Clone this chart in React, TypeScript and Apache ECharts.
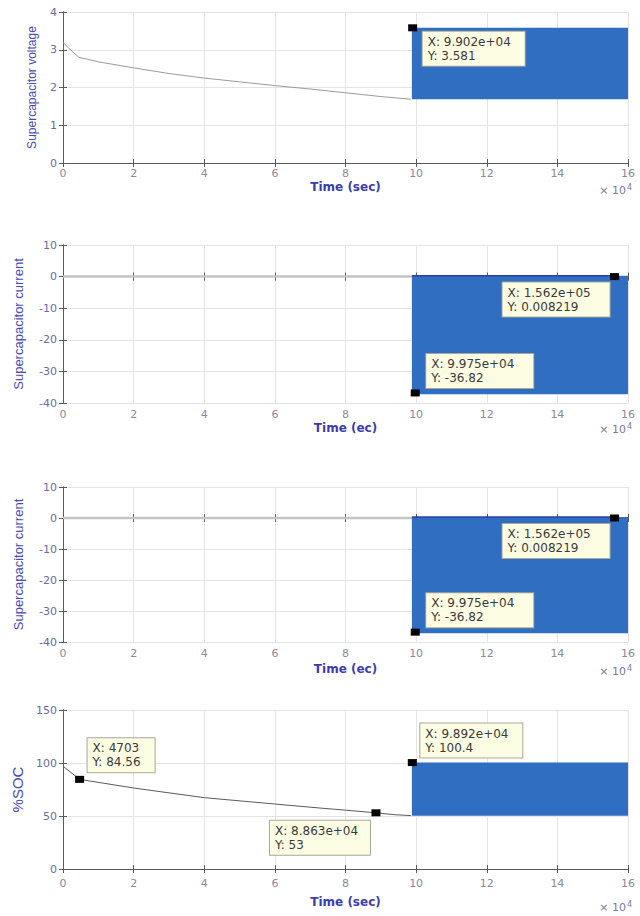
import React, { useEffect, useRef } from "react";
import * as echarts from "echarts";

// ---- data ----
const xTickLabelsScale = 1e4; // axis shows values ×10^4

const voltageTime = [0, 1500, 4500, 10000, 20000, 30000, 40000, 50000, 60000, 70000, 80000, 90000, 98500];
const voltageValue = [3.2, 3.05, 2.8, 2.68, 2.52, 2.37, 2.25, 2.15, 2.05, 1.96, 1.86, 1.76, 1.69];
const voltageBand = [98800, 160000, 1.69, 3.58]; // start, end, low, high
const voltageTips = [[99020, 3.581]];

const currentTime = [0, 98800];
const currentValue = [0, 0];
const currentBand = [98800, 160000, -37.2, 0.3];
const currentBandTopEdge = [[98800, 0.3], [155800, 0.3]];
const currentTips = [[156200, 0.008219], [99750, -36.82]];

const socTime = [0, 4703, 20000, 40000, 60000, 72800, 80000, 88630, 94000, 98500];
const socValue = [97, 84.56, 76.4, 67.3, 61.3, 57.5, 55.5, 53, 51.2, 50.4];
const socBand = [98800, 160000, 50.3, 100.4];
const socTips = [[4703, 84.56], [88630, 53], [98920, 100.4]];

const yNames = ["Supercapacitor voltage", "Supercapacitor current", "Supercapacitor current", "%SOC"];
const xNames = ["Time (sec)", "Time (ec)", "Time (ec)", "Time (sec)"];

// ---- styling / layout ----
const FONT = "Liberation Sans, Arial, sans-serif";
const WIDE = "DejaVu Sans, sans-serif";
const BAND = "#2f6ec0";
const GRID_LEFT = 63;
const GRID_RIGHT = 12;
const PAD = [3, 6, 3, 5];

const fmtX = (v: number) =>
  Math.abs(v) >= 1e4 ? v.toExponential(3).replace(/e([+-])(\d)$/, "e$10$2") : String(v);

// box placement relative to marker centre: side "r" = box to the right, "l" = box to the left
type Placement = { dx: number; dy: number; side: string; va: string; w: number };

const plots = [
  {
    top: 12, height: 151, min: 0, max: 4, interval: 1,
    time: voltageTime, value: voltageValue, band: voltageBand, tips: voltageTips,
    lineColor: "#9a9a9a", lineWidth: 1,
    placements: [{ dx: 10, dy: 4, side: "r", va: "top", w: 102 }] as Placement[],
    xLabelMargin: 5, xNameGap: 18, yNameGap: 25, yNameSize: 12,
    x10Y: 183, edge: null as number[][] | null,
  },
  {
    top: 245, height: 158, min: -40, max: 10, interval: 10,
    time: currentTime, value: currentValue, band: currentBand, tips: currentTips,
    lineColor: "#c4c4c4", lineWidth: 2.5,
    placements: [
      { dx: -5, dy: 6, side: "l", va: "top", w: 107 },
      { dx: 11, dy: -5, side: "r", va: "bottom", w: 107 },
    ] as Placement[],
    xLabelMargin: 6, xNameGap: 19, yNameGap: 38, yNameSize: 13,
    x10Y: 422, edge: currentBandTopEdge,
  },
  {
    top: 487, height: 155, min: -40, max: 10, interval: 10,
    time: currentTime, value: currentValue, band: currentBand, tips: currentTips,
    lineColor: "#c4c4c4", lineWidth: 2.5,
    placements: [
      { dx: -5, dy: 6, side: "l", va: "top", w: 107 },
      { dx: 11, dy: -5, side: "r", va: "bottom", w: 107 },
    ] as Placement[],
    xLabelMargin: 6, xNameGap: 21, yNameGap: 38, yNameSize: 13,
    x10Y: 664, edge: currentBandTopEdge,
  },
  {
    top: 710, height: 159, min: 0, max: 150, interval: 50,
    time: socTime, value: socValue, band: socBand, tips: socTips,
    lineColor: "#5a5a5a", lineWidth: 1,
    placements: [
      { dx: 8, dy: -7, side: "r", va: "bottom", w: 67 },
      { dx: -6, dy: 8, side: "l", va: "top", w: 100 },
      { dx: 8, dy: -5, side: "r", va: "bottom", w: 102 },
    ] as Placement[],
    xLabelMargin: 9, xNameGap: 27, yNameGap: 37, yNameSize: 15,
    x10Y: 900, edge: null as number[][] | null,
  },
];

const SYM_W = 9;
const SYM_H = 7;

function buildOption() {
  const grid: any[] = [];
  const xAxis: any[] = [];
  const yAxis: any[] = [];
  const series: any[] = [];
  const graphic: any[] = [];

  plots.forEach((p, i) => {
    grid.push({ left: GRID_LEFT, right: GRID_RIGHT, top: p.top, height: p.height });
    const axisLine = { show: true, lineStyle: { color: "#5a5a5a", width: 1 } };
    const tick = { show: true, inside: true, length: 4, lineStyle: { color: "#5a5a5a" } };
    xAxis.push({
      type: "value", gridIndex: i, min: 0, max: 160000, interval: 20000, position: "bottom",
      name: xNames[i], nameLocation: "middle", nameGap: p.xNameGap,
      nameTextStyle: { color: "#3c3cb0", fontSize: 12, fontWeight: "bold", fontFamily: WIDE },
      axisLine, axisTick: tick,
      axisLabel: {
        color: "#8a8a9a", fontSize: 11, fontFamily: WIDE, margin: p.xLabelMargin,
        formatter: (v: number) => String(v / xTickLabelsScale),
      },
      splitLine: { show: true, lineStyle: { color: "#e4e4e4", width: 1 } },
    });
    xAxis.push({
      type: "value", gridIndex: i, min: 0, max: 160000, interval: 20000, position: "top",
      axisLine, axisTick: tick, axisLabel: { show: false }, splitLine: { show: false },
    });
    yAxis.push({
      type: "value", gridIndex: i, min: p.min, max: p.max, interval: p.interval, position: "left",
      name: yNames[i], nameLocation: "middle", nameGap: p.yNameGap, nameRotate: 90,
      nameTextStyle: { color: "#4a4ab4", fontSize: p.yNameSize, fontFamily: FONT },
      axisLine, axisTick: tick,
      axisLabel: { color: "#6a6aa8", fontSize: 11, fontFamily: WIDE, margin: 6 },
      splitLine: { show: true, lineStyle: { color: "#e4e4e4", width: 1 } },
    });
    yAxis.push({
      type: "value", gridIndex: i, min: p.min, max: p.max, interval: p.interval, position: "right",
      axisLine, axisTick: tick, axisLabel: { show: false }, splitLine: { show: false },
    });

    const xi = i * 2;
    const yi = i * 2;
    series.push({
      type: "line", xAxisIndex: xi, yAxisIndex: yi, showSymbol: false, silent: true,
      data: p.time.map((t, k) => [t, p.value[k]]),
      lineStyle: { color: p.lineColor, width: p.lineWidth },
      z: 2,
      markArea: {
        silent: true,
        itemStyle: { color: BAND, opacity: 1 },
        data: [[{ coord: [p.band[0], p.band[2]] }, { coord: [p.band[1], p.band[3]] }]],
      },
    });
    if (p.edge) {
      series.push({
        type: "line", xAxisIndex: xi, yAxisIndex: yi, showSymbol: false, silent: true,
        data: p.edge, lineStyle: { color: "#2a3fa8", width: 1.5 }, z: 3,
      });
    }
    series.push({
      type: "scatter", xAxisIndex: xi, yAxisIndex: yi, silent: true, z: 5,
      symbol: "rect", symbolSize: [SYM_W, SYM_H],
      itemStyle: { color: "#000", opacity: 1 },
      data: p.tips.map((tp, k) => {
        const pl = p.placements[k];
        const left = pl.side === "r" ? pl.dx : pl.dx - pl.w;
        return {
          value: tp,
          label: {
            show: true,
            position: [left + SYM_W / 2, pl.dy + SYM_H / 2],
            align: "left",
            verticalAlign: pl.va,
            width: pl.w - PAD[1] - PAD[3],
            overflow: "none",
            formatter: `X: ${fmtX(tp[0])}\nY: ${String(tp[1])}`,
            backgroundColor: "#fdfde4",
            borderColor: "#a8a898",
            borderWidth: 1,
            padding: PAD,
            color: "#3a3a3a",
            fontSize: 12,
            lineHeight: 14,
            fontFamily: WIDE,
            opacity: 1,
          },
        };
      }),
    });

    graphic.push({
      type: "text", right: 8, top: p.x10Y, silent: true,
      style: {
        text: "{a|× 10}{b|4}",
        rich: {
          a: { fontSize: 11, fill: "#7a7a9a", fontFamily: WIDE },
          b: { fontSize: 8, fill: "#7a7a9a", fontFamily: WIDE, verticalAlign: "top", padding: [0, 0, 6, 1] },
        },
      },
    });
  });

  return { animation: false, backgroundColor: "#fff", grid, xAxis, yAxis, series, graphic };
}

export default function App() {
  const ref = useRef<HTMLDivElement>(null);
  useEffect(() => {
    if (!ref.current) return;
    const chart = echarts.init(ref.current, undefined, { renderer: "svg" });
    chart.setOption(buildOption() as any);
    return () => chart.dispose();
  }, []);
  return (
    <div
      ref={ref}
      style={{ position: "absolute", left: 0, top: 0, width: 640, height: 916, background: "#fff" }}
    />
  );
}
